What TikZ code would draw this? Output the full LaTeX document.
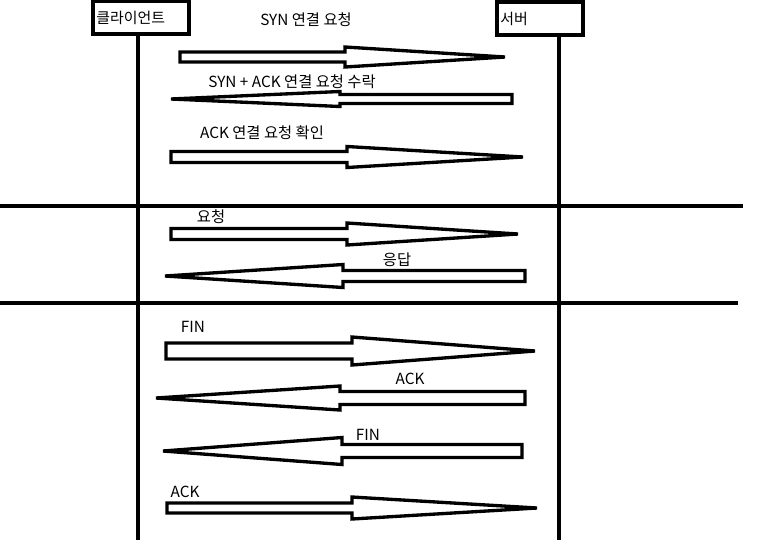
\documentclass[tikz,border=0pt]{standalone}
\usepackage{fontspec}
\setmainfont{Noto Sans CJK KR}
\usetikzlibrary{positioning}

% block arrow: tail x, head base x, tip x, centre y, shaft half, head half
\newcommand{\blockarrow}[6]{%
  \draw[fatarrow] (#1,#4-#5) -- (#2,#4-#5) -- (#2,#4-#6) -- (#3,#4)
    -- (#2,#4+#6) -- (#2,#4+#5) -- (#1,#4+#5) -- cycle;}

\begin{document}
\begin{tikzpicture}[x=0.75pt, y=-0.75pt,
    party/.style={rectangle, draw, line width=2.8pt, inner xsep=2.5pt, align=left, font=\fontsize{11.2}{13}\selectfont},
    lifeline/.style={line width=2.3pt},
    divider/.style={line width=2.5pt},
    fatarrow/.style={draw, fill=white, line width=2.5pt, line join=miter},
    msg/.style={font=\fontsize{11.5}{13}\selectfont, inner sep=0pt}
]
\useasboundingbox (0,0) rectangle (759,540);

% parties
\node[party, minimum width=72pt, minimum height=24.75pt, text width=67pt] (client) at (141,17.5) {클라이언트};
\node[party, minimum width=64.5pt, minimum height=24.75pt, text width=59.5pt] (server) at (540,18.5) {서버};

\coordinate (cend) at (138,540);
\coordinate (send) at (559,540);
\draw[lifeline] (client.south -| cend) -- (cend);
\draw[lifeline] (server.south -| send) -- (send);

% phase dividers
\coordinate (d1l) at (0,206);
\coordinate (d1r) at (743,206);
\coordinate (d2l) at (0,303);
\coordinate (d2r) at (738,303);
\draw[divider] (d1l) -- (d1r);
\draw[divider] (d2l) -- (d2r);

% connection setup
\blockarrow{180}{345}{505}{57}{5}{10}
\node[msg] (syn) at (306,20) {SYN 연결 요청};
\blockarrow{512}{340}{171}{99}{4.5}{7.5}
\node[msg] (synack) at (292,82) {SYN + ACK 연결 요청 수락};
\blockarrow{171}{347}{523}{157}{5.5}{10.5}
\node[msg] (ack1) at (262,133) {ACK 연결 요청 확인};

% data transfer
\blockarrow{171}{347}{518}{234}{5.5}{11}
\node[msg] (req) at (211,217) {요청};
\blockarrow{525}{343}{165}{276}{5.5}{11.5}
\node[msg] (resp) at (397,260) {응답};

% connection release
\blockarrow{166}{352}{535}{351}{8}{14}
\node[msg] (fin1) at (193,327) {FIN};
\blockarrow{525}{340}{156}{398}{6.5}{12}
\node[msg] (ack2) at (410,379) {ACK};
\blockarrow{522}{342}{163}{451}{6.5}{13.5}
\node[msg] (fin2) at (368,435) {FIN};
\blockarrow{167}{352}{537}{508}{5}{11}
\node[msg] (ack3) at (185,492) {ACK};

\end{tikzpicture}
\end{document}
